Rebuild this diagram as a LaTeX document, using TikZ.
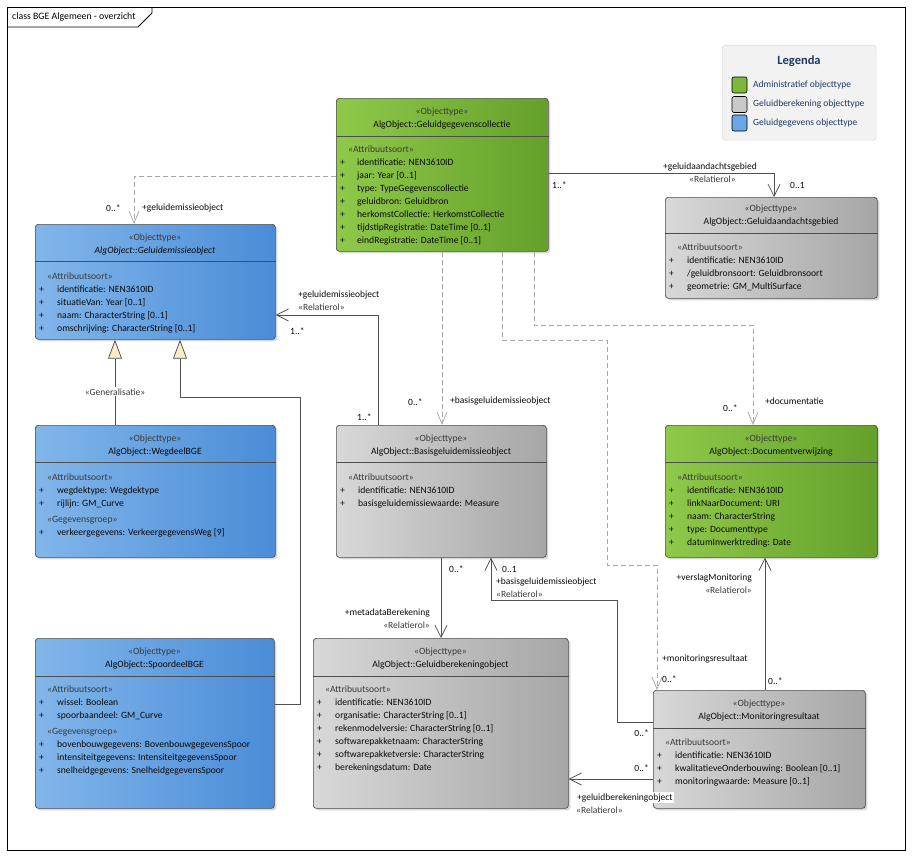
\documentclass[tikz,border=0pt]{standalone}
\usepackage{fontspec}
\setmainfont{Carlito}
\usetikzlibrary{arrows.meta,shadows}
\definecolor{greenL}{HTML}{8FC94A}
\definecolor{greenR}{HTML}{64A02A}
\definecolor{blueL}{HTML}{82B6EA}
\definecolor{blueR}{HTML}{4A8CD8}
\definecolor{grayL}{HTML}{D8D8D8}
\definecolor{grayR}{HTML}{A6A6A6}
\definecolor{bordercol}{HTML}{4D4D4D}
\definecolor{stcol}{HTML}{3A3A3A}
\definecolor{txtcol}{HTML}{0A0A0A}
\definecolor{depcol}{HTML}{A8A8A8}
\definecolor{assoccol}{HTML}{505050}
\definecolor{genfill}{HTML}{FDEBC8}
\definecolor{legfill}{HTML}{F2F2F2}
\definecolor{legborder}{HTML}{D6D6D6}
\definecolor{legtext}{HTML}{1F3864}
\definecolor{swgreen}{HTML}{7CB83A}
\definecolor{swgray}{HTML}{C8C8C8}
\definecolor{swblue}{HTML}{6AA6E6}
\newcommand\bodyfont{\fontsize{9.6}{13}\selectfont}
\newcommand\stl[1]{\multicolumn{2}{@{\hspace{8pt}}l@{}}{\color{stcol}#1}}
\newcommand\att[1]{+ & #1}
\newcommand\hdr[5]{%
  \node[hdrtext] (#1-s) at (#2,#3) {\color{stcol}«Objecttype»};
  \node[hdrtext] (#1-n) at (#2,#3+13) {#4#5};}
\tikzset{
  cls/.style={draw=bordercol, line width=0.7pt, rounded corners=3pt,
    drop shadow={opacity=0.3, shadow xshift=2pt, shadow yshift=-2pt},
    inner sep=0pt, anchor=north west},
  greencls/.style={cls, left color=greenL, right color=greenR},
  bluecls/.style={cls, left color=blueL, right color=blueR},
  graycls/.style={cls, left color=grayL, right color=grayR},
  sepline/.style={draw=bordercol, line width=0.6pt},
  hdrtext/.style={anchor=base, inner sep=0pt, font=\bodyfont, text=txtcol},
  body/.style={anchor=base west, inner sep=0pt, font=\bodyfont, text=txtcol},
  dep/.style={draw=depcol, line width=0.75pt, dash pattern=on 5pt off 3pt,
    -{Straight Barb[length=12pt,width=10pt]}},
  assoc/.style={draw=assoccol, line width=0.75pt,
    -{Straight Barb[length=12pt,width=12pt]}},
  gen/.style={draw=assoccol, line width=0.75pt,
    -{Triangle[length=19pt,width=14pt,fill=genfill]}},
  lbl/.style={inner sep=0pt, font=\fontsize{9.5}{11}\selectfont, text=txtcol},
  rlbl/.style={lbl, text=stcol},
  swatch/.style={draw=black, line width=0.6pt, rounded corners=2pt,
    minimum width=15pt, minimum height=16pt, inner sep=0pt},
  legitem/.style={anchor=west, inner sep=0pt, text=legtext,
    font=\fontsize{9.5}{11}\selectfont},
}
\begin{document}
\begin{tikzpicture}[x=1pt,y=-1pt]
\useasboundingbox (0,0) rectangle (912,859);
\fill[white] (0,0) rectangle (912,859);

% frame
\node[draw=black, line width=0.8pt, minimum width=898pt, minimum height=843pt,
  anchor=north west, inner sep=0pt] (frame) at (7,7) {};
\draw[line width=0.8pt] (7,27) -- (138,27) -- (152,13) -- (152,7);
\node[anchor=base west, inner sep=0pt, font=\fontsize{9.8}{11}\selectfont] (title) at (12,20)
  {class BGE Algemeen - overzicht};

% legend
\node[draw=legborder, fill=legfill, rounded corners=3pt, minimum width=154pt,
  minimum height=95pt, anchor=north west, inner sep=0pt] (leg) at (722,45) {};
\node[inner sep=0pt, text=legtext, font=\bfseries\fontsize{12.5}{14}\selectfont] (legt) at (799,61) {Legenda};
\node[swatch, fill=swgreen] (sw1) at (739.5,85) {};
\node[swatch, fill=swgray] (sw2) at (739.5,104.5) {};
\node[swatch, fill=swblue] (sw3) at (739.5,123) {};
\node[legitem] (lt1) at (753,85) {Administratief objecttype};
\node[legitem] (lt2) at (753,104) {Geluidberekening objecttype};
\node[legitem] (lt3) at (753,123) {Geluidgegevens objecttype};

% ---------- classes ----------
% Geluidgegevenscollectie
\node[greencls, minimum width=212pt, minimum height=153pt] (gc) at (336,98) {};
\draw[sepline] ([yshift=-38pt]gc.north west) -- ([yshift=-38pt]gc.north east);
\hdr{gc}{442}{114}{}{AlgObject::Geluidgegevenscollectie}
\node[body] (gc-a) at (340,152) {\begin{tabular}[t]{@{}p{17pt}@{}l@{}}
\stl{«Attribuutsoort»}\\
\att{identificatie: NEN3610ID}\\
\att{jaar: Year [0..1]}\\
\att{type: TypeGegevenscollectie}\\
\att{geluidbron: Geluidbron}\\
\att{herkomstCollectie: HerkomstCollectie}\\
\att{tijdstipRegistratie: DateTime [0..1]}\\
\att{eindRegistratie: DateTime [0..1]}
\end{tabular}};

% Geluidemissieobject
\node[bluecls, minimum width=240pt, minimum height=115pt] (ge) at (35,224) {};
\draw[sepline] ([yshift=-37pt]ge.north west) -- ([yshift=-37pt]ge.north east);
\hdr{ge}{155}{240}{\itshape}{AlgObject::Geluidemissieobject}
\node[body] (ge-a) at (39,279) {\begin{tabular}[t]{@{}p{18pt}@{}l@{}}
\stl{«Attribuutsoort»}\\
\att{identificatie: NEN3610ID}\\
\att{situatieVan: Year [0..1]}\\
\att{naam: CharacterString [0..1]}\\
\att{omschrijving: CharacterString [0..1]}
\end{tabular}};

% Geluidaandachtsgebied
\node[graycls, minimum width=212pt, minimum height=101pt] (ga) at (665,197) {};
\draw[sepline] ([yshift=-36pt]ga.north west) -- ([yshift=-36pt]ga.north east);
\hdr{ga}{771}{211}{}{AlgObject::Geluidaandachtsgebied}
\node[body] (ga-a) at (669,250) {\begin{tabular}[t]{@{}p{18pt}@{}l@{}}
\stl{«Attribuutsoort»}\\
\att{identificatie: NEN3610ID}\\
\att{/geluidbronsoort: Geluidbronsoort}\\
\att{geometrie: GM\_MultiSurface}
\end{tabular}};

% WegdeelBGE
\node[bluecls, minimum width=240pt, minimum height=132pt] (wd) at (35,425) {};
\draw[sepline] ([yshift=-37pt]wd.north west) -- ([yshift=-37pt]wd.north east);
\hdr{wd}{155}{441}{}{AlgObject::WegdeelBGE}
\node[body] (wd-a) at (39,480) {\begin{tabular}[t]{@{}p{18pt}@{}l@{}}
\stl{«Attribuutsoort»}\\
\att{wegdektype: Wegdektype}\\
\att{rijlijn: GM\_Curve}\\[3pt]
\stl{«Gegevensgroep»}\\
\att{verkeergegevens: VerkeergegevensWeg [9]}
\end{tabular}};

% Basisgeluidemissieobject
\node[graycls, minimum width=210pt, minimum height=132pt] (bg) at (336,425) {};
\draw[sepline] ([yshift=-37pt]bg.north west) -- ([yshift=-37pt]bg.north east);
\hdr{bg}{441}{441}{}{AlgObject::Basisgeluidemissieobject}
\node[body] (bg-a) at (340,480) {\begin{tabular}[t]{@{}p{18pt}@{}l@{}}
\stl{«Attribuutsoort»}\\
\att{identificatie: NEN3610ID}\\
\att{basisgeluidemissiewaarde: Measure}
\end{tabular}};

% Documentverwijzing
\node[greencls, minimum width=212pt, minimum height=132pt] (dv) at (665,425) {};
\draw[sepline] ([yshift=-37pt]dv.north west) -- ([yshift=-37pt]dv.north east);
\hdr{dv}{771}{441}{}{AlgObject::Documentverwijzing}
\node[body] (dv-a) at (669,480) {\begin{tabular}[t]{@{}p{18pt}@{}l@{}}
\stl{«Attribuutsoort»}\\
\att{identificatie: NEN3610ID}\\
\att{linkNaarDocument: URI}\\
\att{naam: CharacterString}\\
\att{type: Documenttype}\\
\att{datumInwerktreding: Date}
\end{tabular}};

% SpoordeelBGE
\node[bluecls, minimum width=239pt, minimum height=170pt] (sp) at (35,638) {};
\draw[sepline] ([yshift=-38pt]sp.north west) -- ([yshift=-38pt]sp.north east);
\hdr{sp}{154.5}{654}{}{AlgObject::SpoordeelBGE}
\node[body] (sp-a) at (39,692) {\begin{tabular}[t]{@{}p{18pt}@{}l@{}}
\stl{«Attribuutsoort»}\\
\att{wissel: Boolean}\\
\att{spoorbaandeel: GM\_Curve}\\[3pt]
\stl{«Gegevensgroep»}\\
\att{bovenbouwgegevens: BovenbouwgegevensSpoor}\\
\att{intensiteitgegevens: IntensiteitgegevensSpoor}\\
\att{snelheidgegevens: SnelheidgegevensSpoor}
\end{tabular}};

% Geluidberekeningobject
\node[graycls, minimum width=255pt, minimum height=170pt] (gb) at (313,638) {};
\draw[sepline] ([yshift=-38pt]gb.north west) -- ([yshift=-38pt]gb.north east);
\hdr{gb}{440.5}{654}{}{AlgObject::Geluidberekeningobject}
\node[body] (gb-a) at (317,692) {\begin{tabular}[t]{@{}p{18pt}@{}l@{}}
\stl{«Attribuutsoort»}\\
\att{identificatie: NEN3610ID}\\
\att{organisatie: CharacterString [0..1]}\\
\att{rekenmodelversie: CharacterString [0..1]}\\
\att{softwarepakketnaam: CharacterString}\\
\att{softwarepakketversie: CharacterString}\\
\att{berekeningsdatum: Date}
\end{tabular}};

% Monitoringresultaat
\node[graycls, minimum width=212pt, minimum height=118pt] (mr) at (653,690) {};
\draw[sepline] ([yshift=-38pt]mr.north west) -- ([yshift=-38pt]mr.north east);
\hdr{mr}{759}{706}{}{AlgObject::Monitoringresultaat}
\node[body] (mr-a) at (657,745) {\begin{tabular}[t]{@{}p{18pt}@{}l@{}}
\stl{«Attribuutsoort»}\\
\att{identificatie: NEN3610ID}\\
\att{kwalitatieveOnderbouwing: Boolean [0..1]}\\
\att{monitoringwaarde: Measure [0..1]}
\end{tabular}};

% ---------- connectors ----------
\coordinate (a1) at (134,176);
\draw[dep] (gc.west |- a1) -- (a1) -- (ge.north -| a1);

\coordinate (b1) at (774,173);
\draw[assoc] (gc.east |- b1) -- (b1) -- (ga.north -| b1);

\coordinate (c1) at (442,300);
\draw[dep] (gc.south -| c1) -- (bg.north -| c1);

\coordinate (d1) at (534,325);
\coordinate (d2) at (753,325);
\draw[dep] (gc.south -| d1) -- (d1) -- (d2) -- (dv.north -| d2);

\coordinate (e1) at (502,340);
\coordinate (e2) at (607,340);
\coordinate (e3) at (607,565);
\coordinate (e4) at (657,565);
\draw[dep] (gc.south -| e1) -- (e1) -- (e2) -- (e3) -- (e4) -- (mr.north -| e4);

\coordinate (f1) at (378,315);
\draw[assoc] (bg.north -| f1) -- (f1) -- (ge.east |- f1);

\coordinate (g1) at (115,380);
\draw[gen] (wd.north -| g1) -- (ge.south -| g1);

\coordinate (h1) at (300,704);
\coordinate (h2) at (300,397);
\coordinate (h3) at (180,397);
\draw[gen] (sp.east |- h1) -- (h1) -- (h2) -- (h3) -- (ge.south -| h3);

\coordinate (i1) at (441,600);
\draw[assoc] (bg.south -| i1) -- (gb.north -| i1);

\coordinate (j1) at (617,722);
\coordinate (j2) at (617,600);
\coordinate (j3) at (491,600);
\draw[assoc] (mr.west |- j1) -- (j1) -- (j2) -- (j3) -- (bg.south -| j3);

\coordinate (k1) at (765,620);
\draw[assoc] (mr.north -| k1) -- (dv.south -| k1);

\coordinate (l1) at (600,779);
\draw[assoc] (mr.west |- l1) -- (gb.east |- l1);

% ---------- labels ----------
\node[lbl, anchor=base west] (L1) at (106,211) {0..*};
\node[lbl, anchor=base west] (L2) at (142,210) {+geluidemissieobject};
\node[lbl, anchor=base west] (L3) at (552,188) {1..*};
\node[lbl, anchor=base west] (L4) at (663,169) {+geluidaandachtsgebied};
\node[rlbl, anchor=base west] (L5) at (689,182) {«Relatierol»};
\node[lbl, anchor=base west] (L6) at (790,188) {0..1};
\node[lbl, anchor=base west] (L7) at (408,405) {0..*};
\node[lbl, anchor=base west] (L8) at (450,403) {+basisgeluidemissieobject};
\node[lbl, anchor=base west] (L9) at (723,411) {0..*};
\node[lbl, anchor=base west] (L10) at (765,404) {+documentatie};
\node[lbl, anchor=base west] (L11) at (298,297) {+geluidemissieobject};
\node[rlbl, anchor=base west] (L12) at (298,310) {«Relatierol»};
\node[lbl, anchor=base west] (L13) at (290,334) {1..*};
\node[lbl, anchor=base west] (L14) at (357,420) {1..*};
\node[rlbl, anchor=base, fill=white, inner sep=1pt] (L15) at (115,395) {«Generalisatie»};
\node[lbl, anchor=base west] (L16) at (449,572) {0..*};
\node[lbl, anchor=base east] (L17) at (430,615) {+metadataBerekening};
\node[rlbl, anchor=base east] (L18) at (430,628) {«Relatierol»};
\node[lbl, anchor=base west] (L19) at (502,572) {0..1};
\node[lbl, anchor=base west] (L20) at (496,584) {+basisgeluidemissieobject};
\node[rlbl, anchor=base west] (L21) at (496,597) {«Relatierol»};
\node[lbl, anchor=base east] (L22) at (649,736) {0..*};
\node[lbl, anchor=base west] (L23) at (662,661) {+monitoringsresultaat};
\node[lbl, anchor=base west] (L24) at (662,682) {0..*};
\node[lbl, anchor=base east] (L25) at (752,580) {+verslagMonitoring};
\node[rlbl, anchor=base east] (L26) at (752,593) {«Relatierol»};
\node[lbl, anchor=base west] (L27) at (768,684) {0..*};
\node[lbl, anchor=base east] (L28) at (649,771) {0..*};
\node[lbl, anchor=base west, fill=white, inner sep=1pt] (L29) at (576,800) {+geluidberekeningobject};
\node[rlbl, anchor=base west] (L30) at (576,813) {«Relatierol»};
\end{tikzpicture}
\end{document}
